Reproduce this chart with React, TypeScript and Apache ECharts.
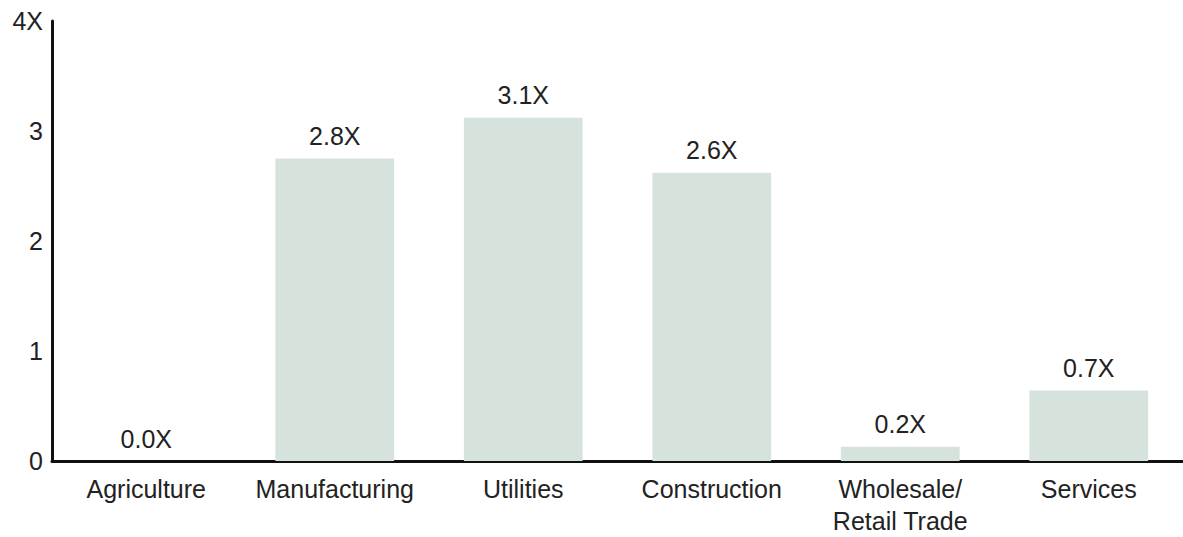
import React, { useEffect, useRef } from "react";
import * as echarts from "echarts";

const categories = ["Agriculture", "Manufacturing", "Utilities", "Construction", "Wholesale/\nRetail Trade", "Services"];
const values = [0, 2.75, 3.12, 2.62, 0.13, 0.64];
const valueLabels = ["0.0X", "2.8X", "3.1X", "2.6X", "0.2X", "0.7X"];
const yTickLabels: Record<number, string> = { 0: "0", 1: "1", 2: "2", 3: "3", 4: "4X" };

export default function App() {
  const ref = useRef<HTMLDivElement>(null);
  useEffect(() => {
    document.body.style.margin = "0";
    const chart = echarts.init(ref.current!, undefined, { renderer: "svg" });
    const font = "'Liberation Sans', Arial, Helvetica, sans-serif";
    chart.setOption({
      animation: false,
      backgroundColor: "#ffffff",
      grid: { left: 52, right: 0, top: 21, bottom: 72, containLabel: false },
      xAxis: {
        type: "category",
        data: categories,
        axisLine: { show: true, lineStyle: { color: "#111", width: 3 } },
        axisTick: { show: false },
        axisLabel: {
          color: "#222",
          fontSize: 25,
          fontFamily: font,
          margin: 12,
          lineHeight: 32,
          interval: 0,
        },
      },
      yAxis: {
        type: "value",
        min: 0,
        max: 4,
        interval: 1,
        splitLine: { show: false },
        axisLine: { show: true, lineStyle: { color: "#111", width: 3 } },
        axisTick: { show: false },
        axisLabel: {
          color: "#222",
          fontSize: 25,
          fontFamily: font,
          margin: 9,
          formatter: (v: number) => yTickLabels[v] ?? String(v),
        },
      },
      series: [
        {
          type: "bar",
          data: values,
          barWidth: "63%",
          itemStyle: { color: "#d6e3dd" },
          label: {
            show: true,
            position: "top",
            distance: 10,
            color: "#222",
            fontSize: 25,
            fontFamily: font,
            formatter: (p: any) => valueLabels[p.dataIndex],
          },
        },
      ],
    });
    return () => chart.dispose();
  }, []);
  return <div ref={ref} style={{ width: 1183, height: 537 }} />;
}
